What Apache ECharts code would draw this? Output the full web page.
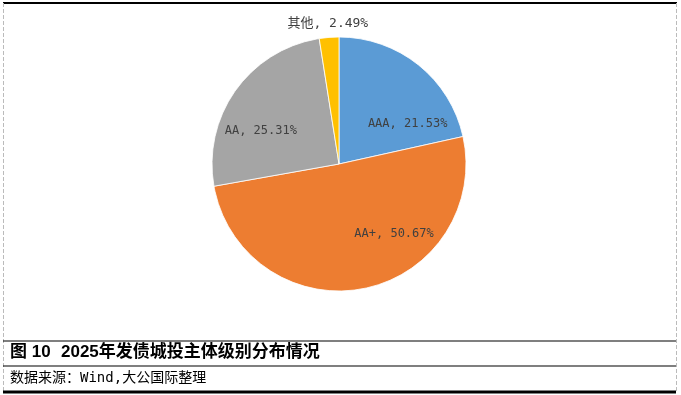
<html>
<head>
<meta charset="UTF-8">
<title>2025年发债城投主体级别分布情况</title>
<script src="https://cdn.jsdelivr.net/npm/echarts@6/dist/echarts.min.js"></script>
<style>
  body { margin: 0; background: #fff; }
</style>
</head>
<body>
<div id="main" style="width: 681px; height: 395px;"></div>
<script type="text/javascript">
    // 数据
    var grades = ['AAA', 'AA+', 'AA', '其他'];
    var shares = [21.53, 50.67, 25.31, 2.49];
    var colors = ['#5B9BD5', '#ED7D31', '#A5A5A5', '#FFC000'];
    // 标签偏移（仿Excel标签位置）
    var labelOffsets = [[27, 12], [42, 5], [-24, 5], [-6, -74]];
    var labelSizes = [12, 12, 12, 13];

    var myChart = echarts.init(document.getElementById('main'));

    var pieData = [];
    for (var i = 0; i < grades.length; i++) {
        pieData.push({
            name: grades[i],
            value: shares[i],
            itemStyle: { color: colors[i] },
            label: { offset: labelOffsets[i], fontSize: labelSizes[i] }
        });
    }

    var cjk = '"DejaVu Sans Mono", "Noto Sans CJK SC", monospace';
    var titleFont = 'bold 17px "Liberation Sans", "Noto Sans CJK SC", sans-serif';

    var option = {
        animation: false,
        series: [
            {
                type: 'pie',
                center: [339, 164],
                radius: [0, 127],
                startAngle: 90,
                clockwise: true,
                data: pieData,
                itemStyle: { borderColor: '#fff', borderWidth: 0.8 },
                label: {
                    position: 'inside',
                    color: '#404040',
                    fontSize: 12,
                    fontFamily: cjk,
                    formatter: function (p) { return p.name + ', ' + p.value.toFixed(2) + '%'; }
                },
                labelLine: { show: false },
                emphasis: { disabled: true }
            }
        ],
        graphic: [
            // 上边粗线
            { type: 'line', shape: { x1: 3, y1: 3, x2: 677, y2: 3 }, style: { stroke: '#000', lineWidth: 2 } },
            // 左右虚线
            { type: 'line', shape: { x1: 3.5, y1: 3, x2: 3.5, y2: 393 }, style: { stroke: '#bbb', lineWidth: 1, lineDash: [4, 2] } },
            { type: 'line', shape: { x1: 676.5, y1: 3, x2: 676.5, y2: 393 }, style: { stroke: '#bbb', lineWidth: 1, lineDash: [4, 2] } },
            // 标题框线
            { type: 'line', shape: { x1: 3, y1: 341, x2: 676, y2: 341 }, style: { stroke: '#000', lineWidth: 1.2 } },
            { type: 'line', shape: { x1: 3, y1: 366, x2: 676, y2: 366 }, style: { stroke: '#000', lineWidth: 1.2 } },
            { type: 'line', shape: { x1: 3, y1: 392, x2: 676, y2: 392 }, style: { stroke: '#000', lineWidth: 3 } },
            {
                type: 'text', left: 10, top: 344,
                style: { text: '图 10', fill: '#000', font: titleFont }
            },
            {
                type: 'text', left: 61, top: 344,
                style: { text: '2025年发债城投主体级别分布情况', fill: '#000', font: titleFont }
            },
            {
                type: 'text', left: 10, top: 371,
                style: { text: '数据来源：Wind,大公国际整理', fill: '#000', font: '14px "DejaVu Sans Mono", "Noto Sans CJK SC", monospace' }
            }
        ]
    };
    myChart.setOption(option);
</script>
</body>
</html>
